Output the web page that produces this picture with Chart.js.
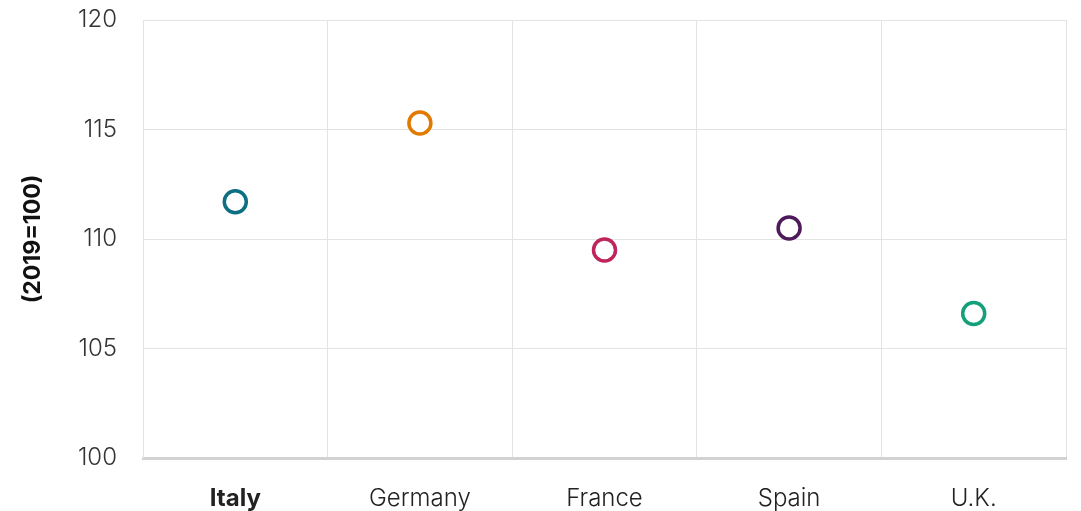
<!DOCTYPE html>
<html>
<head>
<meta charset="utf-8">
<script src="https://cdn.jsdelivr.net/npm/chart.js@4"></script>
<style>
    html, body { margin: 0; padding: 0; background: #fff; }
    #wrap { width: 1081px; height: 511px; }
</style>
</head>
<body>
<div id="wrap"><canvas id="chart" width="1081" height="511"></canvas></div>
<script>
const countries = ['Italy', 'Germany', 'France', 'Spain', 'U.K.'];
const indexValues = [111.7, 115.3, 109.5, 110.5, 106.6];
const pointColors = ['#0e6e84', '#e07b00', '#c0245c', '#4e1a5a', '#15a07a'];
const yTicks = [100, 105, 110, 115, 120];

const fontFamily = 'Inter, "Noto Sans", sans-serif';

const ctx = document.getElementById('chart').getContext('2d');

new Chart(ctx, {
    type: 'line',
    data: {
        labels: countries,
        datasets: [{
            data: indexValues,
            showLine: false,
            pointRadius: 11,
            pointHoverRadius: 11,
            pointBorderWidth: 3.5,
            pointBackgroundColor: '#ffffff',
            pointBorderColor: pointColors
        }]
    },
    options: {
        responsive: false,
        animation: false,
        layout: {
            padding: { left: 0, top: 20, right: 15, bottom: 0 }
        },
        plugins: {
            legend: { display: false },
            tooltip: { enabled: false }
        },
        scales: {
            x: {
                offset: true,
                grid: { offset: true, color: '#e3e3e3', lineWidth: 1, drawTicks: false },
                border: { color: '#d2d2d2', width: 3 },
                ticks: {
                    padding: 26,
                    color: '#222',
                    font: c => ({
                        family: fontFamily,
                        size: 24,
                        weight: c.index === 0 ? 'bold' : '300'
                    })
                },
                afterFit: scale => { scale.height = 53; }
            },
            y: {
                min: 100,
                max: 120,
                afterBuildTicks: scale => {
                    scale.ticks = yTicks.map(v => ({ value: v }));
                },
                grid: { color: '#e3e3e3', lineWidth: 1, drawTicks: false },
                border: { color: '#e3e3e3', width: 1 },
                ticks: {
                    padding: 26,
                    color: '#333',
                    font: { family: fontFamily, size: 24, weight: '300' }
                },
                title: {
                    display: true,
                    text: '(2019=100)',
                    color: '#111',
                    padding: { top: 19, bottom: 0 },
                    font: { family: fontFamily, size: 23, weight: 'bold' }
                },
                afterFit: scale => {
                    scale.width = 143;
                    scale.paddingTop = 0;
                    scale.paddingBottom = 0;
                }
            }
        }
    }
});
</script>
</body>
</html>
